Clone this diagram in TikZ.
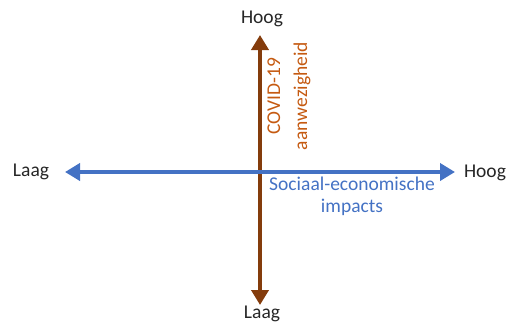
\documentclass[tikz,border=0pt]{standalone}
\usepackage{fontspec}
\setmainfont{Carlito}
\usetikzlibrary{arrows.meta}
\definecolor{covidbrown}{HTML}{843C0C}
\definecolor{covidorange}{HTML}{C55A11}
\definecolor{impactblue}{HTML}{4472C4}
\tikzset{
	axislabel/.style={font=\fontsize{19.5}{22}\selectfont, text=black!85},
	axisarrow/.style={line width=4.5pt, {Triangle[width=17pt,length=15pt]}-{Triangle[width=17pt,length=15pt]}},
}
\begin{document}
\begin{tikzpicture}[x=1pt, y=-1pt]
			\useasboundingbox (0,0) rectangle (507,325);
			% labels bij de uiteinden
			\node[axislabel] (hoogy) at (262,19) {Hoog};
			\node[axislabel] (laagy) at (262,314) {Laag};
			\node[axislabel] (laagx) at (31,172) {Laag};
			\node[axislabel] (hoogx) at (485,173) {Hoog};
			% eindpunten van de pijlen
			\coordinate (ytop) at (260,35);
			\coordinate (ybot) at (260,305);
			\coordinate (xleft) at (65,172);
			\coordinate (xright) at (455,172);
			\draw[axisarrow, covidbrown] (ybot) -- (ytop);
			\draw[axisarrow, impactblue] (xleft) -- (xright);
			% aslabels
			\node[rotate=90, align=center, text=covidorange, font=\fontsize{19.5}{27}\selectfont] (covid) at (289,96) {COVID-19\\aanwezigheid};
			\node[align=center, text=impactblue, font=\fontsize{19.5}{22}\selectfont] (impact) at (352,196) {Sociaal-economische\\impacts};
		\end{tikzpicture}
\end{document}
